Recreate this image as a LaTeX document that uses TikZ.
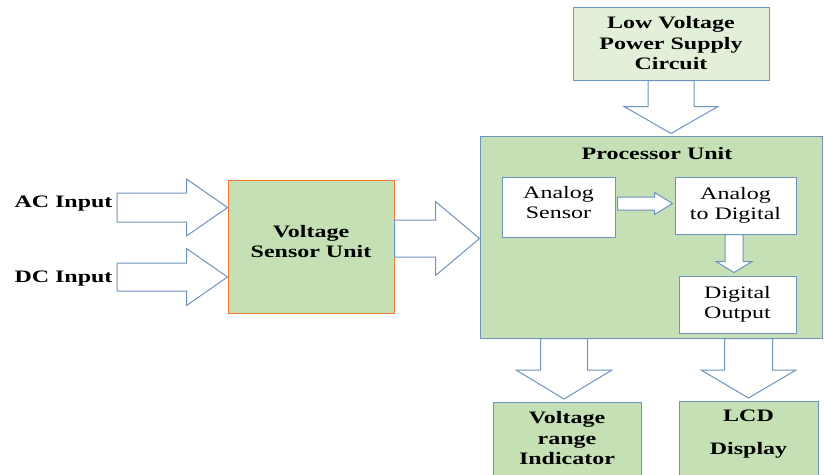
\documentclass[tikz,border=0pt]{standalone}
\usepackage{fontspec}
\setmainfont[FakeStretch=1.37]{Liberation Serif}
\usetikzlibrary{positioning, calc}
\definecolor{edgeblue}{HTML}{6F93BF}
\definecolor{boxgreen}{HTML}{C5E0B4}
\definecolor{palegreen}{HTML}{E2EFD9}
\definecolor{sensororange}{HTML}{ED7D31}

% block arrow: start, tip, shaft half width, head half width, head length
\newcommand{\fatarrow}[5]{%
  \coordinate (fa-base) at ($(#2)!#5!(#1)$);
  \draw[fat] ($(#1)!#3!90:(#2)$) -- ($(fa-base)!#3!90:(#2)$) -- ($(fa-base)!#4!90:(#2)$) -- (#2)
    -- ($(fa-base)!#4!-90:(#2)$) -- ($(fa-base)!#3!-90:(#2)$) -- ($(#1)!#3!-90:(#2)$) -- cycle;}

\begin{document}
\begin{tikzpicture}[x=1pt, y=-1pt,
    every node/.style = {font=\fontsize{17.5}{20.5}\selectfont},
    box/.style = {rectangle, draw=edgeblue, line width=1pt, align=center, inner sep=0pt},
    boldbox/.style = {box, font=\fontsize{17.5}{20.5}\selectfont\bfseries},
    head/.style = {font=\fontsize{17.5}{20.5}\selectfont\bfseries, align=center},
    plain/.style = {align=center},
    fat/.style = {draw=edgeblue, line width=1pt, fill=white, line join=miter}
  ]
    \useasboundingbox (0,0) rectangle (824,474);

    % Supply and sensor
    \node[boldbox, fill=palegreen, minimum width=196pt, minimum height=73pt] (lvps) at (671,43.5) {Low Voltage\\Power Supply\\Circuit};
    \node[box, draw=sensororange, fill=boxgreen, minimum width=166pt, minimum height=133pt] (vsu) at (311,246.5) {};
    \node[head] (vsutext) at (311,241.5) {Voltage\\Sensor Unit};
    \node[head, anchor=west] (acin) at (11,203.5) {AC Input};
    \node[head, anchor=west] (dcin) at (11,278.5) {DC Input};

    % Processor
    \node[box, fill=boxgreen, minimum width=342pt, minimum height=202pt] (proc) at (651,237) {};
    \node[head] (proctitle) at (657,154) {Processor Unit};
    \node[box, fill=white, minimum width=113pt, minimum height=60pt] (asen) at (558.5,207) {};
    \node[plain] (asentext) at (558.5,202.5) {Analog\\Sensor};
    \node[box, fill=white, minimum width=121pt, minimum height=57pt] (adc) at (735.5,205.5) {Analog\\to Digital};
    \node[box, fill=white, minimum width=117pt, minimum height=57pt] (dout) at (737.5,304.5) {Digital\\Output};

    % Outputs
    \node[box, fill=boxgreen, minimum width=148pt, minimum height=80pt, anchor=north] (vri) at (567,402) {};
    \node[head] (vritext) at (567,438.5) {Voltage\\range\\Indicator};
    \node[box, fill=boxgreen, minimum width=139pt, minimum height=80pt, anchor=north] (lcd) at (748.5,401) {};
    \node[head] (lcdtext) at (748.5,434.5) {LCD\\[12.5pt]Display};

    % Arrows
    \coordinate (acs) at (117,207.5);
    \coordinate (act) at (vsu.west |- acs);
    \fatarrow{acs}{act}{14.5pt}{28.5pt}{41pt}
    \coordinate (dcs) at (117,277);
    \coordinate (dct) at (vsu.west |- dcs);
    \fatarrow{dcs}{dct}{14pt}{28.5pt}{41pt}
    \coordinate (vss) at ($(vsu.east)+(0,-8)$);
    \coordinate (vst) at (proc.west |- vss);
    \fatarrow{vss}{vst}{18.5pt}{37pt}{44pt}
    \coordinate (lvs) at (lvps.south);
    \coordinate (lvt) at ($(proc.north -| lvs)+(0,-2)$);
    \fatarrow{lvs}{lvt}{23pt}{47pt}{27pt}
    \coordinate (ass) at ($(asen.east)+(2,-3.5)$);
    \coordinate (ast) at ($(adc.west |- ass)+(-2,0)$);
    \fatarrow{ass}{ast}{6.5pt}{11pt}{18pt}
    \coordinate (dos) at ($(adc.south)+(-1.5,0)$);
    \coordinate (dot) at ($(dout.north -| dos)+(0,-3)$);
    \fatarrow{dos}{dot}{9pt}{18pt}{11pt}
    \coordinate (vrs) at ($(vri.north |- proc.south)+(-3,0)$);
    \coordinate (vrt) at ($(vri.north)+(-3,-3)$);
    \fatarrow{vrs}{vrt}{23.5pt}{48pt}{29pt}
    \coordinate (lcs) at (lcd.north |- proc.south);
    \coordinate (lct) at ($(lcd.north)+(0,-3)$);
    \fatarrow{lcs}{lct}{24pt}{47.5pt}{28pt}

\end{tikzpicture}
\end{document}
